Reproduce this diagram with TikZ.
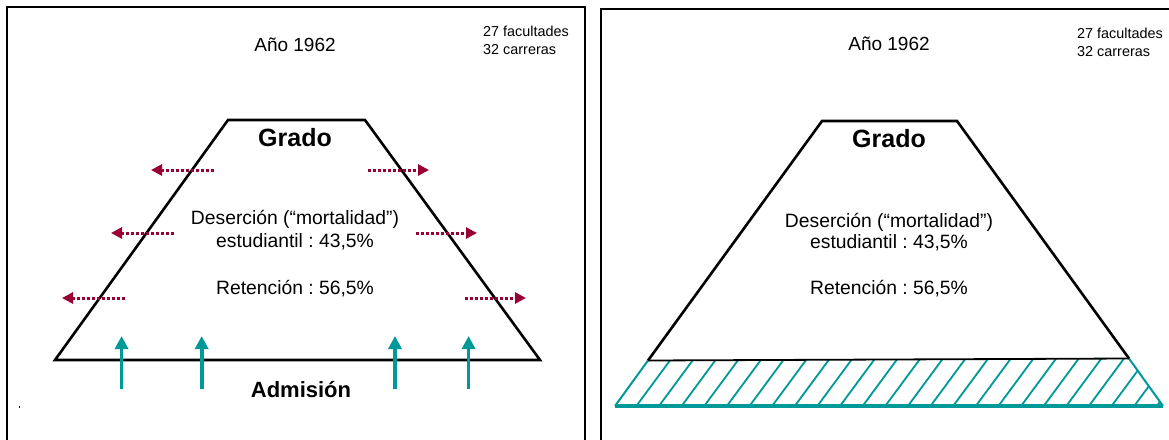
\documentclass[tikz,border=0pt]{standalone}
\usepackage{fontspec}
\setmainfont{Liberation Sans}
\usetikzlibrary{arrows.meta}
\definecolor{drkred}{HTML}{990033}
\definecolor{tealc}{HTML}{009999}
\frenchspacing
\tikzset{
  frame/.style={line width=1.6pt},
  trap/.style={line width=2.6pt, line join=miter},
  outarrow/.style={drkred, line width=3pt, dash pattern=on 3pt off 2pt, -{Triangle[length=11pt,width=11pt]}},
  inarrow/.style={tealc, line width=3.6pt, -{Triangle[length=13pt,width=13pt]}},
  hatchline/.style={tealc, line width=1.8pt},
  lbl/.style={inner sep=0pt, anchor=base},
  small/.style={inner sep=0pt, anchor=base west, font=\fontsize{14.4}{18}\selectfont},
  yearf/.style={font=\fontsize{19}{23}\selectfont},
  bodyf/.style={font=\fontsize{19.3}{23}\selectfont},
  gradof/.style={font=\fontsize{25}{30}\selectfont\bfseries},
  admf/.style={font=\fontsize{22}{26}\selectfont\bfseries},
}
\begin{document}
\begin{tikzpicture}[x=1pt,y=-1pt]
\clip (0,0) rectangle (1169,439);
\fill[white] (0,0) rectangle (1169,439);

% ---------- frames ----------
\draw[frame] (7,445) -- (7,7) -- (585,7) -- (585,445);
\draw[frame] (601,445) -- (601,9) -- (1175,9);

% ---------- left panel ----------
\coordinate (LTL) at (228,120);
\coordinate (LTR) at (365,120);
\coordinate (LBR) at (540,360);
\coordinate (LBL) at (55,360);
\draw[trap] (LTL) -- (LTR) -- (LBR) -- (LBL) -- cycle;

\node[lbl,yearf] (yearL) at (295,51) {Año 1962};
\node[small] (facL) at (483,36) {27 facultades};
\node[small] (carL) at (483,54) {32 carreras};
\node[lbl,gradof] (gradoL) at (295,146) {Grado};
\node[lbl,bodyf] (desL1) at (295,224.5) {Deserción (“mortalidad”)};
\node[lbl,bodyf] (desL2) at (295,247) {estudiantil : 43,5\%};
\node[lbl,bodyf] (retL) at (295,294) {Retención : 56,5\%};
\node[lbl,admf] (admL) at (301,397) {Admisión};

% dropout arrows
\coordinate (oL1s) at (214,170); \coordinate (oL1e) at (151,170);
\coordinate (oL2s) at (174,233); \coordinate (oL2e) at (111,233);
\coordinate (oL3s) at (125,298); \coordinate (oL3e) at (62,298);
\coordinate (oR1s) at (368,170); \coordinate (oR1e) at (429,170);
\coordinate (oR2s) at (416,233); \coordinate (oR2e) at (477,233);
\coordinate (oR3s) at (465,298); \coordinate (oR3e) at (526,298);
\foreach \a in {oL1,oL2,oL3,oR1,oR2,oR3}
  \draw[outarrow] (\a s) -- (\a e);

% admission arrows
\foreach \n/\x in {1/121.6,2/201.7,3/395,4/468.6}{
  \coordinate (iA\n) at (\x,389);
  \coordinate (iB\n) at (\x,336);
  \draw[inarrow] (iA\n) -- (iB\n);
}

% stray dot
\fill (18.6,406.3) rectangle (19.8,407.8);

% ---------- right panel ----------
\coordinate (RTL) at (822,121);
\coordinate (RTR) at (957,121);
\coordinate (RML) at (648,360.5);
\coordinate (RMR) at (1129,358.5);
\coordinate (RBL) at (615,406);
\coordinate (RBR) at (1163,406);

\begin{scope}
  \clip (RML) -- (RMR) -- (RBR) -- (RBL) -- cycle;
  \foreach \k in {-2,...,25}
    \draw[hatchline] ({636.3+22.63*\k-4.4},412) -- ({636.3+22.63*\k+39.9},352);
\end{scope}
\draw[tealc, line width=2pt] (RML) -- (RBL);
\draw[tealc, line width=2pt] (RMR) -- (RBR);
\draw[tealc, line width=3.2pt] (RBL) -- (RBR);
\draw[trap] (RML) -- (RTL) -- (RTR) -- (RMR);
\draw[line width=1.8pt] (RML) -- (RMR);

\node[lbl,yearf] (yearR) at (889,50) {Año 1962};
\node[small] (facR) at (1077,38) {27 facultades};
\node[small] (carR) at (1077,56) {32 carreras};
\node[lbl,gradof] (gradoR) at (889,147) {Grado};
\node[lbl,bodyf] (desR1) at (889,227) {Deserción (“mortalidad”)};
\node[lbl,bodyf] (desR2) at (889,248) {estudiantil : 43,5\%};
\node[lbl,bodyf] (retR) at (889,294) {Retención : 56,5\%};
\end{tikzpicture}
\end{document}
